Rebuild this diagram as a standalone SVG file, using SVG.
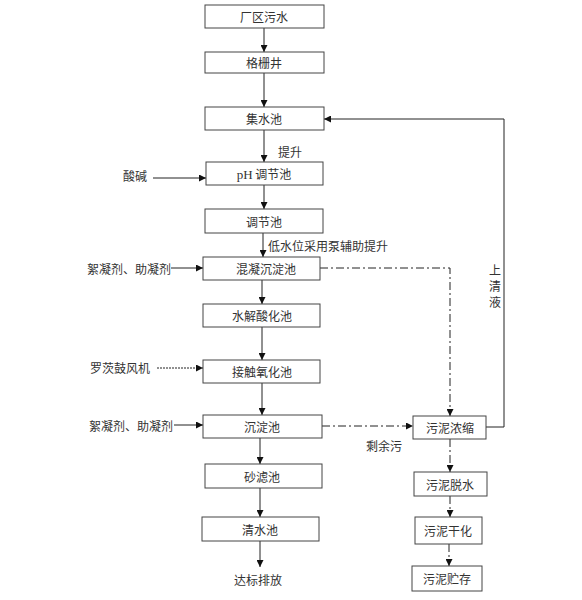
<svg xmlns="http://www.w3.org/2000/svg" width="582" height="600" viewBox="0 0 582 600">
<defs>
<marker id="ah" viewBox="0 0 10 10" refX="10" refY="5" markerWidth="7" markerHeight="7" markerUnits="userSpaceOnUse" orient="auto">
<path d="M0,0 L10,5 L0,10 z" fill="#111"/>
</marker>
</defs>
<style>
.box{fill:#fff;stroke:#444;stroke-width:1}
.t{font-family:"Noto Sans CJK SC","Liberation Sans",sans-serif;font-size:12px;fill:#333;text-anchor:middle;dominant-baseline:central}
.l{font-family:"Noto Sans CJK SC","Liberation Sans",sans-serif;font-size:12px;fill:#333;dominant-baseline:central}
.c{fill:none;stroke:#222;stroke-width:1}
.dd{stroke-dasharray:8,3,2,3}
.dot{stroke-dasharray:2,1}
</style>
<rect width="582" height="600" fill="#fff"/>
<g id="connectors">
<line class="c" x1="264" y1="28" x2="264" y2="52" marker-end="url(#ah)"/>
<line class="c" x1="264" y1="73" x2="264" y2="107" marker-end="url(#ah)"/>
<line class="c" x1="264" y1="130" x2="264" y2="162" marker-end="url(#ah)"/>
<line class="c" x1="264" y1="185" x2="264" y2="209" marker-end="url(#ah)"/>
<line class="c" x1="263" y1="233" x2="263" y2="257" marker-end="url(#ah)"/>
<line class="c" x1="262" y1="280" x2="262" y2="304" marker-end="url(#ah)"/>
<line class="c" x1="262" y1="327" x2="262" y2="360" marker-end="url(#ah)"/>
<line class="c" x1="262" y1="383" x2="262" y2="415" marker-end="url(#ah)"/>
<line class="c" x1="260" y1="438" x2="260" y2="464" marker-end="url(#ah)"/>
<line class="c" x1="260" y1="488" x2="260" y2="517" marker-end="url(#ah)"/>
<line class="c" x1="260" y1="541" x2="260" y2="567" marker-end="url(#ah)"/>
<line class="c" x1="153" y1="178" x2="206" y2="178" marker-end="url(#ah)"/>
<line class="c" x1="171" y1="268" x2="203" y2="268" marker-end="url(#ah)"/>
<line class="c dot" x1="157" y1="368" x2="203" y2="368" marker-end="url(#ah)"/>
<line class="c" x1="174" y1="425" x2="203" y2="425" marker-end="url(#ah)"/>
<polyline class="c dd" points="320,268 450,268 450,416" marker-end="url(#ah)"/>
<line class="c dd" x1="322" y1="426" x2="413" y2="426" marker-end="url(#ah)"/>
<polyline class="c" points="486,427 504,427 504,119 324,119" marker-end="url(#ah)"/>
<line class="c dd" x1="450" y1="439" x2="450" y2="472" marker-end="url(#ah)"/>
<line class="c dd" x1="450" y1="496" x2="450" y2="517" marker-end="url(#ah)"/>
<line class="c dd" x1="449" y1="544" x2="449" y2="566" marker-end="url(#ah)"/>
</g>
<g id="n1"><rect class="box" x="205" y="5" width="119" height="23"/><text class="t" x="264" y="16.5">厂区污水</text></g>
<g id="n2"><rect class="box" x="205" y="52" width="119" height="21"/><text class="t" x="264" y="62.5">格栅井</text></g>
<g id="n3"><rect class="box" x="205" y="107" width="119" height="23"/><text class="t" x="264" y="118.5">集水池</text></g>
<g id="n4"><rect class="box" x="206" y="162" width="117" height="23"/><text class="t" x="264" y="173.5"><tspan font-family="Liberation Serif,serif" font-size="13">pH</tspan> 调节池</text></g>
<g id="n5"><rect class="box" x="205" y="209" width="118" height="24"/><text class="t" x="264" y="221">调节池</text></g>
<g id="n6"><rect class="box" x="203" y="257" width="117" height="23"/><text class="t" x="266" y="268.5">混凝沉淀池</text></g>
<g id="n7"><rect class="box" x="203" y="304" width="117" height="23"/><text class="t" x="262" y="315.5">水解酸化池</text></g>
<g id="n8"><rect class="box" x="203" y="360" width="117" height="23"/><text class="t" x="262" y="371.5">接触氧化池</text></g>
<g id="n9"><rect class="box" x="203" y="415" width="119" height="23"/><text class="t" x="262" y="426.5">沉淀池</text></g>
<g id="n10"><rect class="box" x="205" y="464" width="117" height="24"/><text class="t" x="262" y="476">砂滤池</text></g>
<g id="n11"><rect class="box" x="202" y="517" width="117" height="24"/><text class="t" x="260" y="529">清水池</text></g>
<g id="n12"><text class="t" x="258" y="579">达标排放</text></g>
<g id="s1"><rect class="box" x="413" y="416" width="73" height="23"/><text class="t" x="450" y="427.5">污泥浓缩</text></g>
<g id="s2"><rect class="box" x="414" y="472" width="73" height="24"/><text class="t" x="450" y="484">污泥脱水</text></g>
<g id="s3"><rect class="box" x="415" y="517" width="67" height="27"/><text class="t" x="448" y="530.5">污泥干化</text></g>
<g id="s4"><rect class="box" x="412" y="566" width="70" height="25"/><text class="t" x="447" y="578.5">污泥贮存</text></g>
<g id="labels">
<text class="l" x="278" y="151">提升</text>
<text class="l" x="123" y="175">酸碱</text>
<text class="l" x="268" y="245" font-size="11">低水位采用泵辅助提升</text>
<text class="l" x="87" y="268">絮凝剂、助凝剂</text>
<text class="l" x="90" y="367">罗茨鼓风机</text>
<text class="l" x="89" y="425">絮凝剂、助凝剂</text>
<text class="l" x="366" y="445">剩余污</text>
<text class="t" x="495" y="269">上</text>
<text class="t" x="495" y="285">清</text>
<text class="t" x="495" y="301">液</text>
</g>
</svg>
